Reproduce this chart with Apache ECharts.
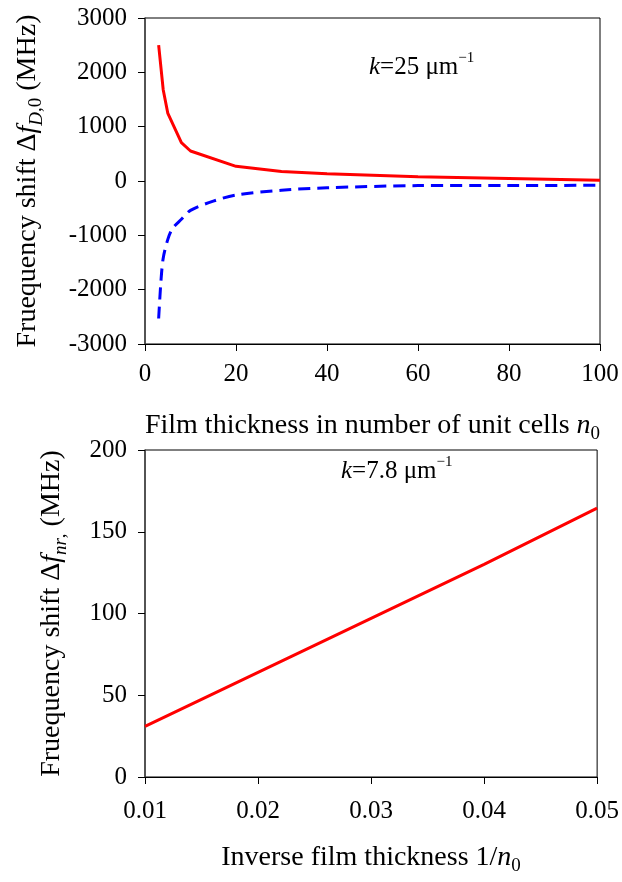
<!DOCTYPE html>
<html>
<head>
<meta charset="utf-8">
<script src="https://cdn.jsdelivr.net/npm/echarts@6/dist/echarts.min.js"></script>
<style>
  html, body {margin: 0; padding: 0; background: #fff;}
  #chart {width: 622px; height: 882px;}
</style>
</head>
<body>
<div id="chart"></div>
<script>
// top panel: film thickness n0 vs frequency shift
const redN = [3, 4, 5, 8, 10, 20, 30, 40, 60, 80, 100];
const redShift = [2500, 1680, 1250, 705, 552, 270, 175, 135, 80, 47, 15];
const blueN = [3, 3.5, 4, 5, 6, 8, 10, 15, 20, 30, 40, 60, 80, 100];
const blueShift = [-2530, -1850, -1420, -1080, -880, -705, -540, -370, -260, -170, -125, -85, -82, -80];

// bottom panel: inverse thickness 1/n0 vs frequency shift
const invN = [0.01, 0.02, 0.03, 0.04, 0.05];
const nrShift = [31, 64, 97, 130, 164.5];

const FONT = 'Liberation Serif';

const pairs = (xs, ys) => xs.map((x, i) => [x, ys[i]]);

// axis titles
const richName = {
  t: {fontFamily: FONT, fontSize: 28, color: '#000', lineHeight: 36},
  i: {fontFamily: FONT, fontSize: 28, fontStyle: 'italic', color: '#000', lineHeight: 36},
  si: {fontFamily: FONT, fontSize: 19, fontStyle: 'italic', color: '#000', verticalAlign: 'bottom'},
  s: {fontFamily: FONT, fontSize: 19, color: '#000', verticalAlign: 'bottom'}
};

// in-plot k labels
const richNote = {
  t: {fontFamily: FONT, fontSize: 25, color: '#000', lineHeight: 32},
  i: {fontFamily: FONT, fontSize: 25, fontStyle: 'italic', color: '#000', lineHeight: 32},
  sup: {fontFamily: FONT, fontSize: 15, color: '#000', verticalAlign: 'top'}
};

const labelStyle = {fontFamily: FONT, fontSize: 25, color: '#000'};

const xAxisBase = {
  type: 'value',
  nameLocation: 'middle',
  nameTextStyle: {rich: richName},
  axisLine: {show: true, onZero: false, lineStyle: {color: '#000', width: 1}},
  axisTick: {show: true, inside: false, length: 7, lineStyle: {color: '#000'}},
  axisLabel: Object.assign({margin: 18, showMinLabel: true, showMaxLabel: true}, labelStyle),
  splitLine: {show: false}
};

const yAxisBase = {
  type: 'value',
  nameLocation: 'middle',
  nameRotate: 90,
  nameTextStyle: {rich: richName},
  axisLine: {show: true, onZero: false, lineStyle: {color: '#444', width: 1.5}},
  axisTick: {show: true, inside: false, length: 7, lineStyle: {color: '#000'}},
  axisLabel: Object.assign({margin: 18, showMinLabel: true, showMaxLabel: true,
    formatter: v => String(v)}, labelStyle),
  splitLine: {show: false}
};

const chart = echarts.init(document.getElementById('chart'), null, {renderer: 'canvas'});

chart.setOption({
  animation: false,
  backgroundColor: '#fff',
  grid: [
    {left: 145, right: 22, top: 18, height: 326, show: true, borderColor: '#000', borderWidth: 1},
    {left: 145, right: 22, top: 450, height: 327, show: true, borderColor: '#000', borderWidth: 1}
  ],
  xAxis: [
    Object.assign({}, xAxisBase, {
      gridIndex: 0, min: 0, max: 100, interval: 20,
      name: '{t|Film thickness in number of unit cells }{i|n}{s|0}',
      nameGap: 64
    }),
    Object.assign({}, xAxisBase, {
      gridIndex: 1, min: 0.01, max: 0.05, interval: 0.01,
      name: '{t|Inverse film thickness 1/}{i|n}{s|0}',
      nameGap: 63,
      axisLabel: Object.assign({}, xAxisBase.axisLabel, {
        margin: 22,
        formatter: v => v.toFixed(2)
      })
    })
  ],
  yAxis: [
    Object.assign({}, yAxisBase, {
      gridIndex: 0, min: -3000, max: 3000, interval: 1000,
      name: '{t|Fruequency shift Δ}{i|f}{si|D}{s|,0}{t| (MHz)}',
      nameGap: 99
    }),
    Object.assign({}, yAxisBase, {
      gridIndex: 1, min: 0, max: 200, interval: 50,
      name: '{t|Fruequency shift Δ}{i|f}{si|nr}{s|,}{t| (MHz)}',
      nameGap: 75
    })
  ],
  graphic: [
    {
      type: 'text', left: 369, top: 51,
      style: {text: '{i|k}{t|=25 μm}{sup|−1}', rich: richNote}
    },
    {
      type: 'text', left: 341, top: 455,
      style: {text: '{i|k}{t|=7.8 μm}{sup|−1}', rich: richNote}
    }
  ],
  series: [
    {
      type: 'line', xAxisIndex: 0, yAxisIndex: 0,
      data: pairs(redN, redShift),
      showSymbol: false,
      lineStyle: {color: '#ff0000', width: 3}
    },
    {
      type: 'line', xAxisIndex: 0, yAxisIndex: 0,
      data: pairs(blueN, blueShift),
      showSymbol: false,
      smooth: 0.3,
      lineStyle: {color: '#0000ff', width: 3, type: [12, 7]}
    },
    {
      type: 'line', xAxisIndex: 1, yAxisIndex: 1,
      data: pairs(invN, nrShift),
      showSymbol: false,
      lineStyle: {color: '#ff0000', width: 3}
    }
  ]
});
</script>
</body>
</html>
